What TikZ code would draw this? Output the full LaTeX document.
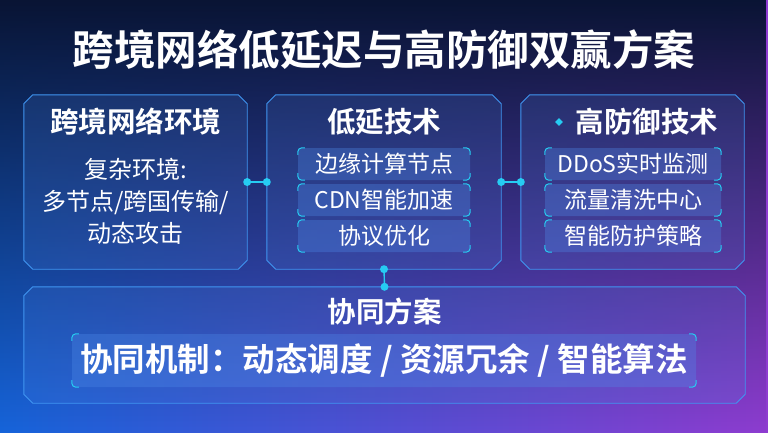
\documentclass[tikz,border=0pt]{standalone}
\usepackage{fontspec}
\setmainfont{Noto Sans CJK SC}[BoldFont={Noto Sans CJK SC Bold}]
\usetikzlibrary{shapes.geometric,fadings,calc}

\definecolor{navy}{RGB}{9,20,52}
\definecolor{bgblue}{RGB}{22,100,218}
\definecolor{bgpurple}{RGB}{142,60,208}
\definecolor{edgeblue}{RGB}{64,150,242}
\definecolor{glow}{RGB}{38,204,242}
\definecolor{panel}{RGB}{80,140,235}

\tikzfading[name=fadetop, top color=transparent!0, middle color=transparent!25, bottom color=transparent!100]

\tikzset{
  panelbox/.style={rectangle, inner sep=0pt},
  panelline/.style={draw=edgeblue, line width=0.9pt, fill=panel, fill opacity=0.16},
  subbox/.style={rounded corners=4pt, fill=panel, fill opacity=0.32, text opacity=1, text=white,
    minimum height=32pt, inner sep=0pt, font=\fontsize{23}{23}\selectfont},
  accent/.style={draw=glow, line width=1pt, rounded corners=4pt},
  link/.style={draw=glow, line width=1.4pt},
  boxtitle/.style={text=white, font=\bfseries\fontsize{28.5}{28.5}\selectfont},
}

\newcommand\chamfer[1]{%
  \path[panelline] ($(#1.north west)+(9,0)$) -- ($(#1.north east)+(-9,0)$) -- ($(#1.north east)+(0,9)$)
    -- ($(#1.south east)+(0,-9)$) -- ($(#1.south east)+(-9,0)$) -- ($(#1.south west)+(9,0)$)
    -- ($(#1.south west)+(0,-9)$) -- ($(#1.north west)+(0,9)$) -- cycle;
}
\newcommand\brackets[1]{%
  \draw[accent] ($(#1.north west)+(0,7)$) |- ($(#1.north west)+(7,0)$);
  \draw[accent] ($(#1.north east)+(-7,0)$) -| ($(#1.north east)+(0,7)$);
  \draw[accent] ($(#1.south west)+(0,-7)$) |- ($(#1.south west)+(7,0)$);
  \draw[accent] ($(#1.south east)+(-7,0)$) -| ($(#1.south east)+(0,-7)$);
}

\begin{document}
\begin{tikzpicture}[x=1pt, y=-1pt]
% background
\shade[left color=bgblue, right color=bgpurple] (0,0) rectangle (768,432);
\fill[navy, path fading=fadetop] (0,0) rectangle (768,432);
\useasboundingbox (0,0) rectangle (768,432);

% title
\node[text=white, font=\bfseries\fontsize{41.5}{41.5}\selectfont] (title) at (384,50) {跨境网络低延迟与高防御双赢方案};

% three panels
\node[panelbox, minimum width=223pt, minimum height=174pt] (env) at (135.5,182) {};
\node[panelbox, minimum width=234pt, minimum height=174pt] (low) at (384,182) {};
\node[panelbox, minimum width=223pt, minimum height=174pt] (def) at (632.5,182) {};
\chamfer{env}
\chamfer{low}
\chamfer{def}

% panel: network environment
\node[boxtitle] (envtitle) at (135.5,122) {跨境网络环境};
\node[text=white, align=center, font=\fontsize{24}{32}\selectfont] (envtext) at (135.5,201)
  {复杂环境:\\多节点/跨国传输/\\动态攻击};

% panel: low latency
\node[boxtitle] (lowtitle) at (384,122) {低延技术};
\foreach \name/\txt [count=\i] in {edgenode/边缘计算节点, cdn/CDN智能加速, proto/协议优化}{
  \node[subbox, minimum width=172pt] (\name) at (384,128+36*\i) {\txt};
  \brackets{\name}
}

% panel: high defence
\node[boxtitle] (deftitle) at (647,122) {高防御技术};
\node[diamond, fill=glow, minimum size=8pt, inner sep=0pt] (defmark) at (559,122) {};
\foreach \name/\txt [count=\i] in {ddos/DDoS实时监测, clean/流量清洗中心, guard/智能防护策略}{
  \node[subbox, minimum width=176pt] (\name) at (633,128+36*\i) {\txt};
  \brackets{\name}
}

% bottom panel
\node[panelbox, minimum width=721pt, minimum height=116pt] (plan) at (384.5,345) {};
\chamfer{plan}
\node[boxtitle] (plantitle) at (384.5,312) {协同方案};
\node[subbox, minimum width=624pt, minimum height=53pt, font=\bfseries\fontsize{32.5}{32.5}\selectfont] (mech) at (384,360.5)
  {协同机制：动态调度 / 资源冗余 / 智能算法};
\brackets{mech}

% connectors
\draw[link] (env.east) -- (low.west);
\draw[link] (low.east) -- (def.west);
\draw[link] (low.south) -- (plan.north);
\foreach \p in {env.east, low.west, low.east, def.west, low.south, plan.north}
  \fill[glow] (\p) circle (4);
\end{tikzpicture}
\end{document}
